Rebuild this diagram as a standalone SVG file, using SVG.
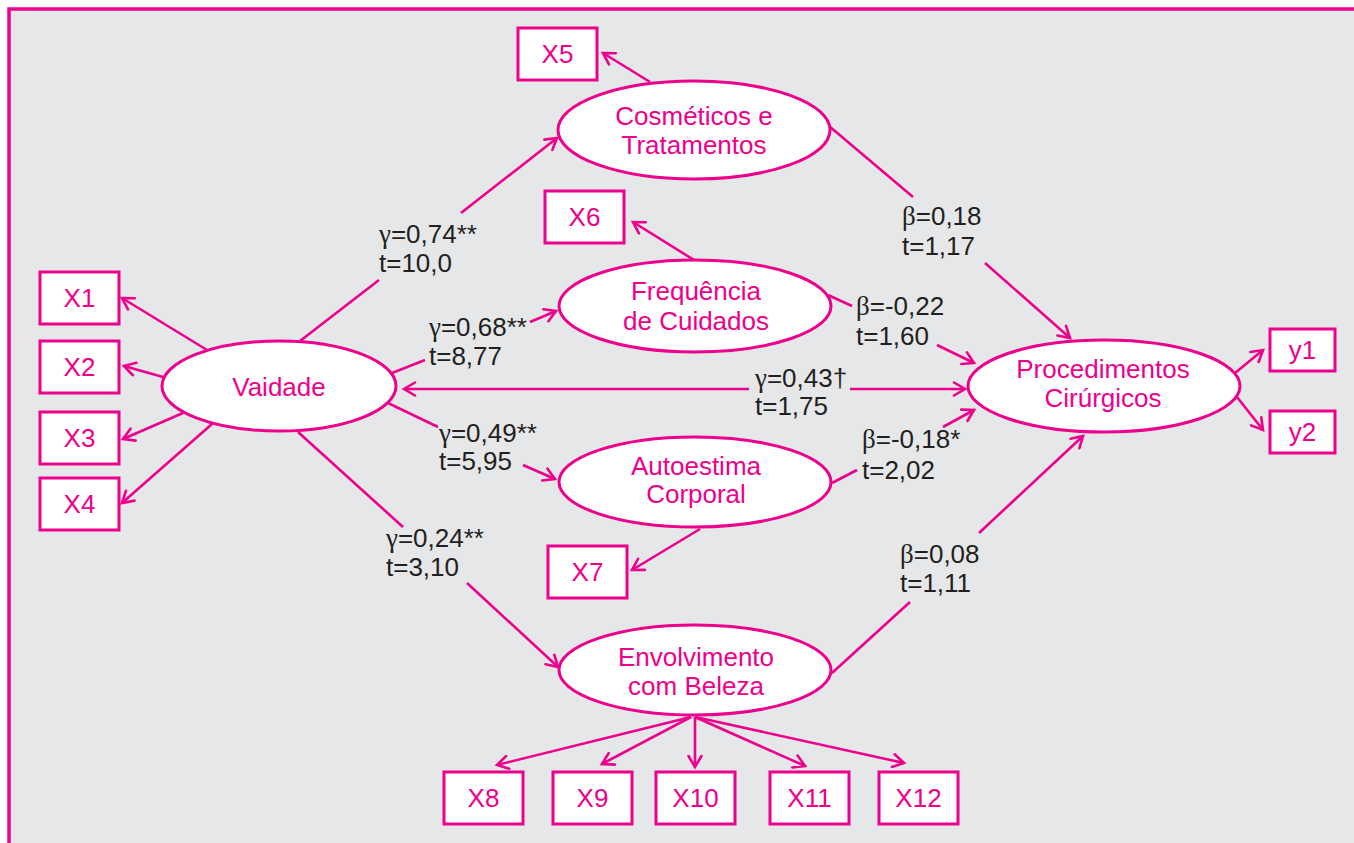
<svg xmlns="http://www.w3.org/2000/svg" width="1354" height="843" viewBox="0 0 1354 843">
<defs>
<style>
.frame{fill:#e6e7e8;stroke:#ec008c;stroke-width:3.5}
.box{fill:#fff;stroke:#ec008c;stroke-width:3}
.ell{fill:#fff;stroke:#ec008c;stroke-width:3}
.nt{font-family:"Liberation Sans",Arial,Helvetica,sans-serif;font-size:26px;fill:#ec008c;text-anchor:middle}
.lb{font-family:"Liberation Sans",Arial,Helvetica,sans-serif;font-size:26px;fill:#231f20}
.g{font-family:"Liberation Serif","Times New Roman",serif;font-size:27px}
.c{stroke:#ec008c;stroke-width:2.6;fill:none}
.a{marker-end:url(#arr)}
</style>
<marker id="arr" markerUnits="userSpaceOnUse" markerWidth="16" markerHeight="16" refX="13" refY="8" orient="auto">
<path d="M2,1.5 L13,8 L2,14.5" fill="none" stroke="#ec008c" stroke-width="2.6" stroke-linecap="round" stroke-linejoin="miter"/>
</marker>
</defs>
<rect x="0" y="0" width="1354" height="843" fill="#fff"/>
<rect class="frame" x="9" y="9" width="1370" height="860"/>

<g id="connectors">
<line class="c" x1="300" y1="341" x2="379" y2="280"/>
<line class="c a" x1="461" y1="213" x2="557" y2="138"/>
<line class="c" x1="392" y1="373" x2="425" y2="360"/>
<line class="c a" x1="530" y1="322" x2="556" y2="311"/>
<line class="c a" x1="749" y1="389" x2="404" y2="389"/>
<line class="c a" x1="850" y1="389" x2="965" y2="389"/>
<line class="c" x1="388" y1="403" x2="438" y2="427"/>
<line class="c a" x1="523" y1="465" x2="555" y2="479"/>
<line class="c" x1="298" y1="432" x2="403" y2="527"/>
<line class="c a" x1="467" y1="583" x2="558" y2="667"/>
<line class="c a" x1="650" y1="82" x2="603" y2="53"/>
<line class="c a" x1="694" y1="260" x2="633" y2="222"/>
<line class="c a" x1="700" y1="529" x2="632" y2="570"/>
<line class="c" x1="829" y1="126" x2="913" y2="197"/>
<line class="c a" x1="985" y1="263" x2="1070" y2="338"/>
<line class="c" x1="828" y1="295" x2="852" y2="306"/>
<line class="c a" x1="937" y1="345" x2="974" y2="363"/>
<line class="c" x1="832" y1="483" x2="857" y2="470"/>
<line class="c a" x1="943" y1="427" x2="974" y2="410"/>
<line class="c" x1="832" y1="673" x2="910" y2="602"/>
<line class="c a" x1="979" y1="533" x2="1083" y2="436"/>
<line class="c a" x1="1235" y1="373" x2="1263" y2="350"/>
<line class="c a" x1="1237" y1="397" x2="1263" y2="430"/>
<line class="c a" x1="207" y1="350" x2="122" y2="298"/>
<line class="c a" x1="163" y1="377" x2="124" y2="366"/>
<line class="c a" x1="183" y1="413" x2="123" y2="439"/>
<line class="c a" x1="212" y1="424" x2="122" y2="503"/>
<line class="c a" x1="691" y1="717" x2="497" y2="765"/>
<line class="c a" x1="691" y1="717" x2="602" y2="764"/>
<line class="c a" x1="695" y1="717" x2="695" y2="767"/>
<line class="c a" x1="695" y1="717" x2="805" y2="766"/>
<line class="c a" x1="695" y1="717" x2="904" y2="763"/>
</g>

<g id="labels">
<text class="lb" x="379" y="243"><tspan class="g">γ</tspan>=0,74**</text>
<text class="lb" x="379" y="272">t=10,0</text>
<text class="lb" x="429" y="336"><tspan class="g">γ</tspan>=0,68**</text>
<text class="lb" x="429" y="365">t=8,77</text>
<text class="lb" x="755" y="387"><tspan class="g">γ</tspan>=0,43†</text>
<text class="lb" x="755" y="415">t=1,75</text>
<text class="lb" x="439" y="442"><tspan class="g">γ</tspan>=0,49**</text>
<text class="lb" x="439" y="470">t=5,95</text>
<text class="lb" x="386" y="547"><tspan class="g">γ</tspan>=0,24**</text>
<text class="lb" x="386" y="576">t=3,10</text>
<text class="lb" x="902" y="225"><tspan class="g">β</tspan>=0,18</text>
<text class="lb" x="902" y="255">t=1,17</text>
<text class="lb" x="856" y="315"><tspan class="g">β</tspan>=-0,22</text>
<text class="lb" x="856" y="345">t=1,60</text>
<text class="lb" x="862" y="448"><tspan class="g">β</tspan>=-0,18*</text>
<text class="lb" x="862" y="479">t=2,02</text>
<text class="lb" x="900" y="563"><tspan class="g">β</tspan>=0,08</text>
<text class="lb" x="900" y="592">t=1,11</text>
</g>

<g id="vaidade"><ellipse class="ell" cx="279" cy="386" rx="117" ry="45"/><text class="nt" x="279" y="396">Vaidade</text></g>
<g id="cosmeticos"><ellipse class="ell" cx="694" cy="130" rx="136" ry="49"/><text class="nt" x="694" y="125">Cosméticos e</text><text class="nt" x="694" y="154">Tratamentos</text></g>
<g id="frequencia"><ellipse class="ell" cx="695" cy="306" rx="136" ry="46"/><text class="nt" x="696" y="300">Frequência</text><text class="nt" x="696" y="330">de Cuidados</text></g>
<g id="autoestima"><ellipse class="ell" cx="695" cy="482" rx="136" ry="45"/><text class="nt" x="696" y="475">Autoestima</text><text class="nt" x="696" y="503">Corporal</text></g>
<g id="envolvimento"><ellipse class="ell" cx="695" cy="670" rx="136" ry="45"/><text class="nt" x="696" y="666">Envolvimento</text><text class="nt" x="696" y="695">com Beleza</text></g>
<g id="procedimentos"><ellipse class="ell" cx="1104" cy="386" rx="136" ry="46"/><text class="nt" x="1103" y="378">Procedimentos</text><text class="nt" x="1103" y="407">Cirúrgicos</text></g>

<g id="x1"><rect class="box" x="40" y="272" width="79" height="52"/><text class="nt" x="79.5" y="307">X1</text></g>
<g id="x2"><rect class="box" x="40" y="341" width="79" height="52"/><text class="nt" x="79.5" y="376">X2</text></g>
<g id="x3"><rect class="box" x="40" y="412" width="79" height="52"/><text class="nt" x="79.5" y="447">X3</text></g>
<g id="x4"><rect class="box" x="40" y="478" width="79" height="52"/><text class="nt" x="79.5" y="513">X4</text></g>
<g id="x5"><rect class="box" x="518" y="28" width="79" height="52"/><text class="nt" x="557.5" y="63">X5</text></g>
<g id="x6"><rect class="box" x="545" y="191" width="79" height="52"/><text class="nt" x="584.5" y="226">X6</text></g>
<g id="x7"><rect class="box" x="548" y="546" width="79" height="52"/><text class="nt" x="587.5" y="581">X7</text></g>
<g id="x8"><rect class="box" x="444" y="772" width="79" height="52"/><text class="nt" x="483.5" y="807">X8</text></g>
<g id="x9"><rect class="box" x="553" y="772" width="79" height="52"/><text class="nt" x="592.5" y="807">X9</text></g>
<g id="x10"><rect class="box" x="656" y="772" width="79" height="52"/><text class="nt" x="695.5" y="807">X10</text></g>
<g id="x11"><rect class="box" x="770" y="772" width="79" height="52"/><text class="nt" x="809.5" y="807">X11</text></g>
<g id="x12"><rect class="box" x="879" y="772" width="79" height="52"/><text class="nt" x="918.5" y="807">X12</text></g>
<g id="y1"><rect class="box" x="1270" y="329" width="65" height="42"/><text class="nt" x="1302.5" y="359">y1</text></g>
<g id="y2"><rect class="box" x="1270" y="411" width="65" height="42"/><text class="nt" x="1302.5" y="441">y2</text></g>
</svg>
